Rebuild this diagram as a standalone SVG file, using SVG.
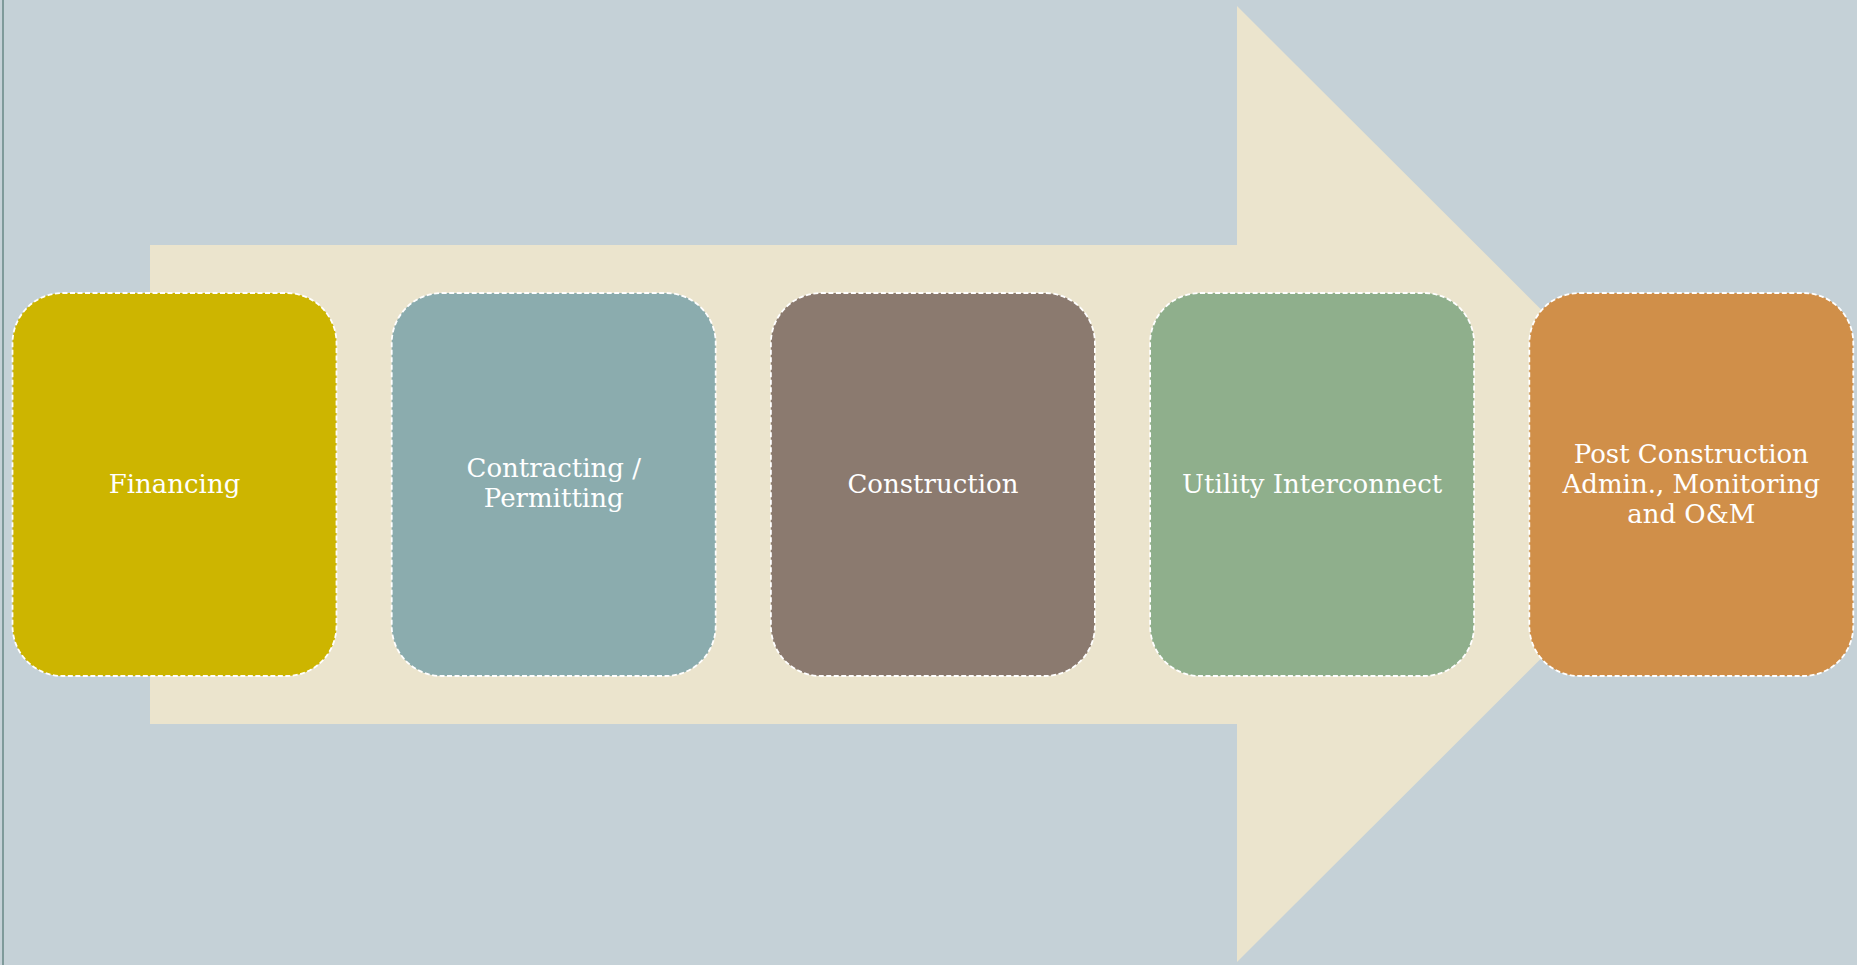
<svg xmlns="http://www.w3.org/2000/svg" width="1857" height="965" viewBox="0 0 1857 965">
<style>
.box{stroke:#ffffff;stroke-width:1.8;stroke-dasharray:5 2.5}
.lbl{font-family:"DejaVu Serif","Liberation Serif",serif;font-size:26px;fill:#ffffff;text-anchor:middle}
</style>
<rect x="0" y="0" width="1857" height="965" fill="#C5D1D7"/>
<rect x="2" y="0" width="2" height="965" fill="#7F9A9A"/>
<g id="arrow">
<polygon points="150,245 1237,245 1237,6 1716,484 1237,962 1237,724 150,724" fill="#EBE4CD"/>
</g>
<g id="connectors"></g>
<g id="financing">
<rect class="box" x="12.5" y="293" width="324" height="383" rx="50" ry="50" fill="#CDB500"/>
<text class="lbl" x="174.5" y="493">Financing</text>
</g>
<g id="contracting">
<rect class="box" x="391.7" y="293" width="324" height="383" rx="50" ry="50" fill="#8BACAE"/>
<text class="lbl" x="553.7" y="477">Contracting /</text>
<text class="lbl" x="553.7" y="507">Permitting</text>
</g>
<g id="construction">
<rect class="box" x="770.9" y="293" width="324" height="383" rx="50" ry="50" fill="#8B7A6F"/>
<text class="lbl" x="932.9" y="493">Construction</text>
</g>
<g id="utility">
<rect class="box" x="1150.1" y="293" width="324" height="383" rx="50" ry="50" fill="#8FAF8C"/>
<text class="lbl" x="1312.1" y="493">Utility Interconnect</text>
</g>
<g id="post">
<rect class="box" x="1529.3" y="293" width="324" height="383" rx="50" ry="50" fill="#D08F49"/>
<text class="lbl" x="1691.3" y="463">Post Construction</text>
<text class="lbl" x="1691.3" y="493">Admin., Monitoring</text>
<text class="lbl" x="1691.3" y="523">and O&amp;M</text>
</g>
</svg>
